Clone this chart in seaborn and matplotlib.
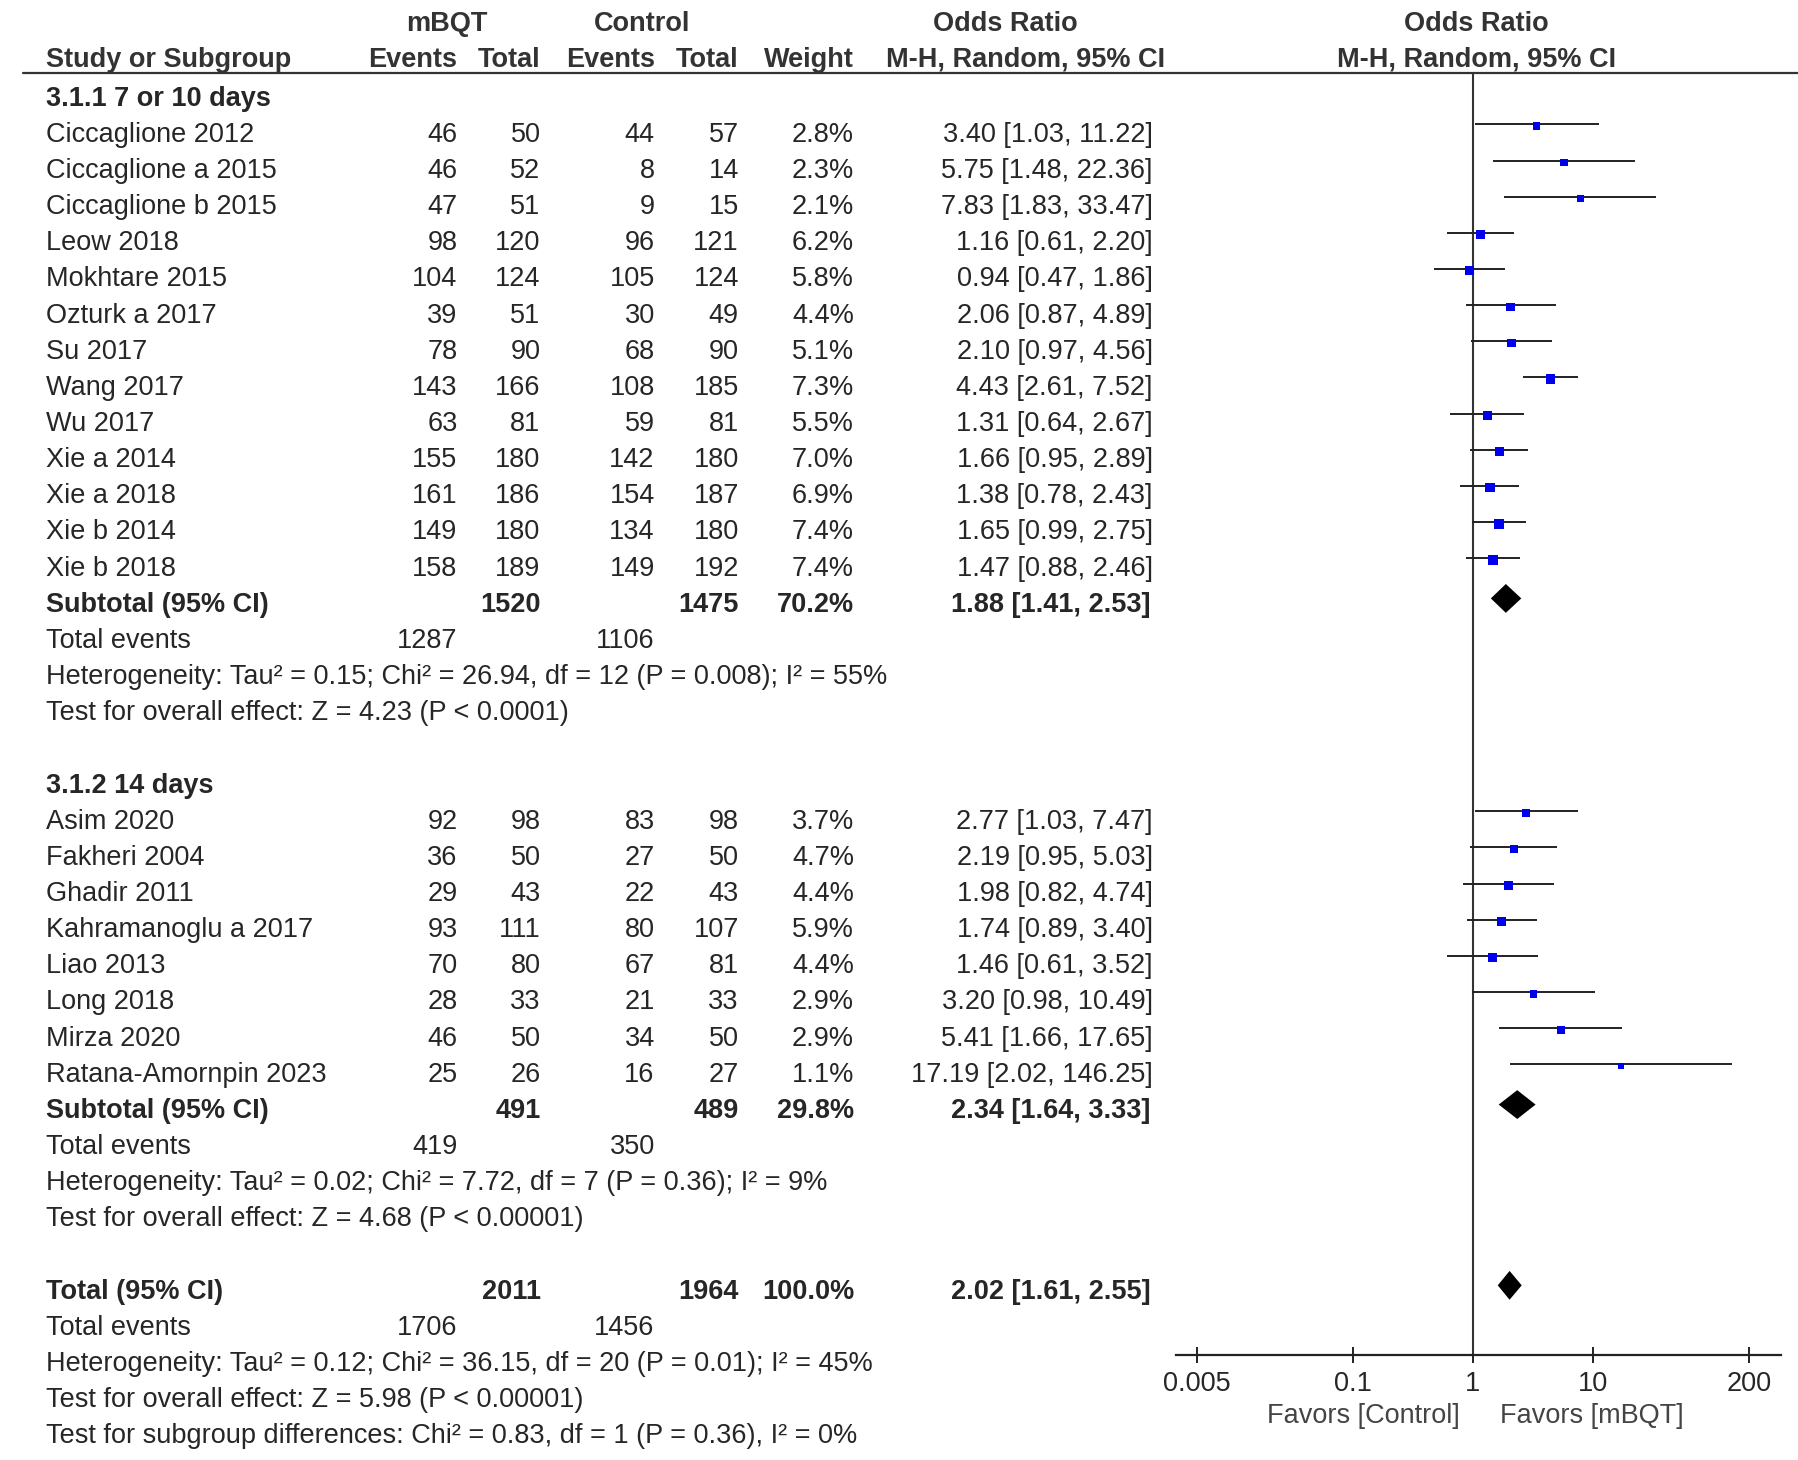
import numpy as np
import pandas as pd
import matplotlib
matplotlib.use("Agg")
import matplotlib.pyplot as plt
import seaborn as sns

# ---------------------------------------------------------------------
# Data
# ---------------------------------------------------------------------
studies_1 = ["Ciccaglione 2012", "Ciccaglione a 2015", "Ciccaglione b 2015", "Leow 2018",
             "Mokhtare 2015", "Ozturk a 2017", "Su 2017", "Wang 2017", "Wu 2017",
             "Xie a 2014", "Xie a 2018", "Xie b 2014", "Xie b 2018"]
ev_m_1 = [46, 46, 47, 98, 104, 39, 78, 143, 63, 155, 161, 149, 158]
tot_m_1 = [50, 52, 51, 120, 124, 51, 90, 166, 81, 180, 186, 180, 189]
ev_c_1 = [44, 8, 9, 96, 105, 30, 68, 108, 59, 142, 154, 134, 149]
tot_c_1 = [57, 14, 15, 121, 124, 49, 90, 185, 81, 180, 187, 180, 192]
weight_1 = [2.8, 2.3, 2.1, 6.2, 5.8, 4.4, 5.1, 7.3, 5.5, 7.0, 6.9, 7.4, 7.4]
or_1 = [3.40, 5.75, 7.83, 1.16, 0.94, 2.06, 2.10, 4.43, 1.31, 1.66, 1.38, 1.65, 1.47]
lo_1 = [1.03, 1.48, 1.83, 0.61, 0.47, 0.87, 0.97, 2.61, 0.64, 0.95, 0.78, 0.99, 0.88]
hi_1 = [11.22, 22.36, 33.47, 2.20, 1.86, 4.89, 4.56, 7.52, 2.67, 2.89, 2.43, 2.75, 2.46]

studies_2 = ["Asim 2020", "Fakheri 2004", "Ghadir 2011", "Kahramanoglu a 2017",
             "Liao 2013", "Long 2018", "Mirza 2020", "Ratana-Amornpin 2023"]
ev_m_2 = [92, 36, 29, 93, 70, 28, 46, 25]
tot_m_2 = [98, 50, 43, 111, 80, 33, 50, 26]
ev_c_2 = [83, 27, 22, 80, 67, 21, 34, 16]
tot_c_2 = [98, 50, 43, 107, 81, 33, 50, 27]
weight_2 = [3.7, 4.7, 4.4, 5.9, 4.4, 2.9, 2.9, 1.1]
or_2 = [2.77, 2.19, 1.98, 1.74, 1.46, 3.20, 5.41, 17.19]
lo_2 = [1.03, 0.95, 0.82, 0.89, 0.61, 0.98, 1.66, 2.02]
hi_2 = [7.47, 5.03, 4.74, 3.40, 3.52, 10.49, 17.65, 146.25]

# pooled: subgroup 1, subgroup 2, overall
pooled_label = ["Subtotal (95% CI)", "Subtotal (95% CI)", "Total (95% CI)"]
pooled_tot_m = [1520, 491, 2011]
pooled_tot_c = [1475, 489, 1964]
pooled_weight = [70.2, 29.8, 100.0]
pooled_or = [1.88, 2.34, 2.02]
pooled_lo = [1.41, 1.64, 1.61]
pooled_hi = [2.53, 3.33, 2.55]
pooled_ev_m = [1287, 419, 1706]
pooled_ev_c = [1106, 350, 1456]

group_titles = ["3.1.1 7 or 10 days", "3.1.2 14 days"]
het_text = [
    "Heterogeneity: Tau\u00b2 = 0.15; Chi\u00b2 = 26.94, df = 12 (P = 0.008); I\u00b2 = 55%",
    "Heterogeneity: Tau\u00b2 = 0.02; Chi\u00b2 = 7.72, df = 7 (P = 0.36); I\u00b2 = 9%",
    "Heterogeneity: Tau\u00b2 = 0.12; Chi\u00b2 = 36.15, df = 20 (P = 0.01); I\u00b2 = 45%",
]
effect_text = [
    "Test for overall effect: Z = 4.23 (P < 0.0001)",
    "Test for overall effect: Z = 4.68 (P < 0.00001)",
    "Test for overall effect: Z = 5.98 (P < 0.00001)",
]
subgroup_text = "Test for subgroup differences: Chi\u00b2 = 0.83, df = 1 (P = 0.36), I\u00b2 = 0%"

xticks = [0.005, 0.1, 1, 10, 200]
xtick_labels = ["0.005", "0.1", "1", "10", "200"]

# ---------------------------------------------------------------------
# Layout (canvas units: 1560 x 1266, y downward)
# ---------------------------------------------------------------------
W, H = 1560, 1266
Y0, STEP = 85.5, 31.35
def row_y(i):
    return Y0 + STEP * i

X_NAME = 40
X_EVM, X_TOTM, X_EVC, X_TOTC, X_W, X_OR = 397, 469, 568, 641, 741, 1000
PX_LEFT, PX_RIGHT, PX_ONE, PX_DEC = 1020, 1545, 1278, 104
Y_TOP, Y_AXIS = 63, 1175

TXT = "#262626"
FS = 19.5

sns.set_theme(style="white")
plt.rcParams["font.family"] = ["Liberation Sans", "DejaVu Sans"]

fig = plt.figure(figsize=(17.98, 14.6), dpi=100)
ax_t = fig.add_axes([0, 0, 1, 1])
ax_t.set_xlim(0, W)
ax_t.set_ylim(H, 0)
ax_t.axis("off")

def put(x, y, s, ha="left", bold=False, color=TXT):
    ax_t.text(x, y, s, ha=ha, va="center", fontsize=FS,
              fontweight="bold" if bold else "normal", color=color)

# header
hdr = "#333333"
put(388, 21, "mBQT", ha="center", bold=True, color=hdr)
put(557, 21, "Control", ha="center", bold=True, color=hdr)
put(872, 21, "Odds Ratio", ha="center", bold=True, color=hdr)
put(1281, 21, "Odds Ratio", ha="center", bold=True, color=hdr)
put(X_NAME, 52, "Study or Subgroup", bold=True, color=hdr)
put(X_EVM, 52, "Events", ha="right", bold=True, color=hdr)
put(X_TOTM, 52, "Total", ha="right", bold=True, color=hdr)
put(X_EVC, 52, "Events", ha="right", bold=True, color=hdr)
put(X_TOTC, 52, "Total", ha="right", bold=True, color=hdr)
put(X_W, 52, "Weight", ha="right", bold=True, color=hdr)
put(1011, 52, "M-H, Random, 95% CI", ha="right", bold=True, color=hdr)
put(1281, 52, "M-H, Random, 95% CI", ha="center", bold=True, color=hdr)
ax_t.plot([20, W], [Y_TOP, Y_TOP], color="#333333", lw=1.6)

groups = [
    (studies_1, ev_m_1, tot_m_1, ev_c_1, tot_c_1, weight_1, or_1, lo_1, hi_1),
    (studies_2, ev_m_2, tot_m_2, ev_c_2, tot_c_2, weight_2, or_2, lo_2, hi_2),
]

rows = []      # study rows for the forest panel
pooled_rows = []
i = 0
for g, (names, em, tm, ec, tc, w, orr, lo, hi) in enumerate(groups):
    put(X_NAME, row_y(i), group_titles[g], bold=True)
    i += 1
    for k, name in enumerate(names):
        y = row_y(i)
        put(X_NAME, y, name)
        put(X_EVM, y, f"{em[k]}", ha="right")
        put(X_TOTM, y, f"{tm[k]}", ha="right")
        put(X_EVC, y, f"{ec[k]}", ha="right")
        put(X_TOTC, y, f"{tc[k]}", ha="right")
        put(X_W, y, f"{w[k]:.1f}%", ha="right")
        put(X_OR, y, f"{orr[k]:.2f} [{lo[k]:.2f}, {hi[k]:.2f}]", ha="right")
        rows.append({"y": y, "or": orr[k], "lo": lo[k], "hi": hi[k], "w": w[k]})
        i += 1
    # subtotal
    y = row_y(i)
    put(X_NAME, y, pooled_label[g], bold=True)
    put(X_TOTM, y, f"{pooled_tot_m[g]}", ha="right", bold=True)
    put(X_TOTC, y, f"{pooled_tot_c[g]}", ha="right", bold=True)
    put(X_W, y, f"{pooled_weight[g]:.1f}%", ha="right", bold=True)
    put(X_OR - 2, y, f"{pooled_or[g]:.2f} [{pooled_lo[g]:.2f}, {pooled_hi[g]:.2f}]", ha="right", bold=True)
    pooled_rows.append(y)
    i += 1
    put(X_NAME, row_y(i), "Total events")
    put(X_EVM, row_y(i), f"{pooled_ev_m[g]}", ha="right")
    put(X_EVC, row_y(i), f"{pooled_ev_c[g]}", ha="right")
    i += 1
    put(X_NAME, row_y(i), het_text[g])
    i += 1
    put(X_NAME, row_y(i), effect_text[g])
    i += 2

# overall
y = row_y(i)
put(X_NAME, y, pooled_label[2], bold=True)
put(X_TOTM, y, f"{pooled_tot_m[2]}", ha="right", bold=True)
put(X_TOTC, y, f"{pooled_tot_c[2]}", ha="right", bold=True)
put(X_W, y, f"{pooled_weight[2]:.1f}%", ha="right", bold=True)
put(X_OR - 2, y, f"{pooled_or[2]:.2f} [{pooled_lo[2]:.2f}, {pooled_hi[2]:.2f}]", ha="right", bold=True)
pooled_rows.append(y)
i += 1
put(X_NAME, row_y(i), "Total events")
put(X_EVM, row_y(i), f"{pooled_ev_m[2]}", ha="right")
put(X_EVC, row_y(i), f"{pooled_ev_c[2]}", ha="right")
i += 1
put(X_NAME, row_y(i), het_text[2])
i += 1
put(X_NAME, row_y(i), effect_text[2])
i += 1
put(X_NAME, row_y(i), subgroup_text)

# ---------------------------------------------------------------------
# Forest panel
# ---------------------------------------------------------------------
ax_f = fig.add_axes([PX_LEFT / W, 1 - Y_AXIS / H,
                     (PX_RIGHT - PX_LEFT) / W, (Y_AXIS - Y_TOP) / H])
ax_f.patch.set_alpha(0)
ax_f.set_xscale("log")
ax_f.set_xlim(10 ** ((PX_LEFT - PX_ONE) / PX_DEC), 10 ** ((PX_RIGHT - PX_ONE) / PX_DEC))
ax_f.set_ylim(Y_AXIS, Y_TOP)

df = pd.DataFrame(rows)
df["y_line"] = df["y"] - 9
ax_f.hlines(df["y_line"], df["lo"], df["hi"], color="#222222", lw=1.4)
sns.scatterplot(data=df, x="or", y=df["y_line"] + 1.5, size="w", sizes=(22, 50),
                size_norm=(1.1, 7.4), marker="s", color="#0000ee", linewidth=0,
                legend=False, ax=ax_f, zorder=3)

for k, yp in enumerate(pooled_rows):
    yc = yp - 5.5
    ax_f.fill([pooled_lo[k], pooled_or[k], pooled_hi[k], pooled_or[k]],
              [yc, yc - 12.5, yc, yc + 12.5], color="black", lw=0, zorder=3)

ax_f.axvline(1, color="#333333", lw=1.5, zorder=1)

for side in ["left", "right", "top"]:
    ax_f.spines[side].set_visible(False)
ax_f.spines["bottom"].set_color("#222222")
ax_f.spines["bottom"].set_linewidth(1.6)
ax_f.set_yticks([])
ax_f.set_xticks(xticks)
ax_f.set_xticklabels(xtick_labels)
ax_f.minorticks_off()
ax_f.tick_params(axis="x", direction="inout", length=11, width=1.4, color="#222222",
                 labelsize=FS, labelcolor=TXT, pad=6, bottom=True)
ax_f.set_xlabel("")
ax_f.set_ylabel("")

put(1183, 1228, "Favors [Control]", ha="center", color="#444444")
put(1381, 1228, "Favors [mBQT]", ha="center", color="#444444")

fig.savefig("out.png", dpi=100, facecolor="white")
